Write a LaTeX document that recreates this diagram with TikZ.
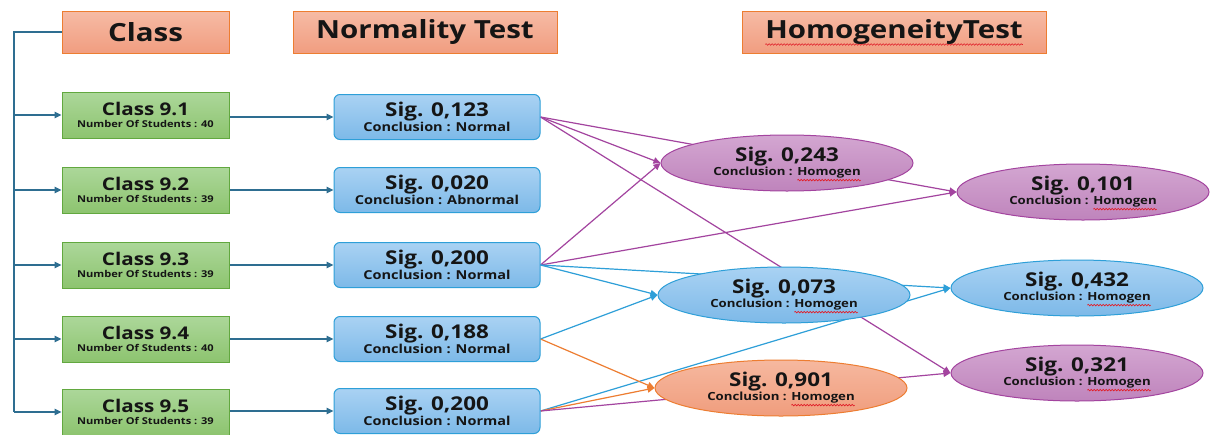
\documentclass[tikz,border=0pt]{standalone}
\usepackage{fontspec}
\setmainfont[FakeStretch=1.18]{Open Sans}
\usetikzlibrary{arrows.meta,backgrounds,shapes.geometric,decorations.pathmorphing}

\definecolor{hdrTop}{HTML}{F6BBA5}
\definecolor{hdrBot}{HTML}{F19D80}
\definecolor{hdrLine}{HTML}{ED7D31}
\definecolor{grTop}{HTML}{ACD79A}
\definecolor{grBot}{HTML}{8DC46F}
\definecolor{grLine}{HTML}{62A83F}
\definecolor{blTop}{HTML}{A9D2F3}
\definecolor{blBot}{HTML}{7DB9E8}
\definecolor{blLine}{HTML}{2E9FD8}
\definecolor{puTop}{HTML}{D3A6D1}
\definecolor{puBot}{HTML}{BF84BC}
\definecolor{puLine}{HTML}{A3449F}
\definecolor{orTop}{HTML}{F6B89F}
\definecolor{orBot}{HTML}{F09D7D}
\definecolor{orLine}{HTML}{ED7D31}
\definecolor{treeLine}{HTML}{2E6E91}
\definecolor{txt}{HTML}{151515}
\definecolor{squig}{HTML}{E0202A}

\newsavebox\sqbox
\newcommand\sq[2][-4.2pt]{\sbox\sqbox{#2}\rlap{\tikz[overlay,baseline=0pt]\draw[squig,line width=0.6pt,decorate,decoration={snake,amplitude=0.8pt,segment length=3pt}] (0pt,#1) -- (\wd\sqbox,#1);}\usebox\sqbox}
\newcommand\bigln[1]{{\fontsize{19}{21}\selectfont #1}}
\newcommand\smln[1]{{\fontsize{12.3}{13}\selectfont #1}}
\newcommand\ellln[1]{{\fontsize{11.2}{13}\selectfont #1}}
\newcommand\clsln[1]{{\fontsize{17.5}{19}\selectfont #1}}
\newcommand\numln[1]{{\fontsize{9.4}{10}\selectfont #1}}

\begin{document}
\begin{tikzpicture}[x=1pt,y=-1pt,
  hdr/.style={draw=hdrLine,line width=1pt,top color=hdrTop,bottom color=hdrBot,minimum height=42pt,inner sep=0pt,text=txt,font=\bfseries\fontsize{25}{27}\selectfont},
  classbox/.style={draw=grLine,line width=1pt,top color=grTop,bottom color=grBot,minimum width=167pt,minimum height=46pt,inner sep=0pt,align=center,text=txt,font=\bfseries},
  normbox/.style={draw=blLine,line width=1pt,rounded corners=6pt,top color=blTop,bottom color=blBot,minimum width=206pt,minimum height=45pt,inner sep=0pt,align=center,text=txt,font=\bfseries},
  ellbase/.style={ellipse,line width=1pt,minimum width=252pt,minimum height=56pt,inner sep=0pt,align=center,text=txt,font=\bfseries},
  ellP/.style={ellbase,draw=puLine,top color=puTop,bottom color=puBot},
  ellB/.style={ellbase,draw=blLine,top color=blTop,bottom color=blBot},
  ellO/.style={ellbase,draw=orLine,top color=orTop,bottom color=orBot},
  tip/.style={-{Triangle[length=7pt,width=6.5pt]}},
  tree/.style={draw=treeLine,line width=1.5pt},
  treearr/.style={tree,tip},
  conP/.style={draw=puLine,line width=1.2pt,tip},
  conB/.style={draw=blLine,line width=1.2pt,tip},
  conO/.style={draw=orLine,line width=1.2pt,tip}]
\useasboundingbox (0,0) rectangle (1210,434);
\begin{scope}[on background layer]
\fill[white] (0,0) rectangle (1210,434);
\end{scope}

% headers
\node[hdr,minimum width=167pt] (hClass) at (145.5,32) {Class};
\node[hdr,minimum width=264pt] (hNorm) at (425,32) {Normality Test};
\node[hdr,minimum width=304pt] (hHomo) at (894,32) {\sq[-6pt]{HomogeneityTest}};

% classes
\node[classbox] (g1) at (145.5,115) {\clsln{Class 9.1}\\\numln{Number Of Students : 40}};
\node[classbox] (g2) at (145.5,190) {\clsln{Class 9.2}\\\numln{Number Of Students : 39}};
\node[classbox] (g3) at (145.5,265) {\clsln{Class 9.3}\\\numln{Number Of Students : 39}};
\node[classbox] (g4) at (145.5,339) {\clsln{Class 9.4}\\\numln{Number Of Students : 40}};
\node[classbox] (g5) at (145.5,412) {\clsln{Class 9.5}\\\numln{Number Of Students : 39}};

% normality
\node[normbox] (b1) at (437,117) {\bigln{Sig. 0,123}\\\smln{Conclusion : Normal}};
\node[normbox] (b2) at (437,190) {\bigln{Sig. 0,020}\\\smln{Conclusion : Abnormal}};
\node[normbox] (b3) at (437,265) {\bigln{Sig. 0,200}\\\smln{Conclusion : Normal}};
\node[normbox] (b4) at (437,339) {\bigln{Sig. 0,188}\\\smln{Conclusion : Normal}};
\node[normbox] (b5) at (437,411) {\bigln{Sig. 0,200}\\\smln{Conclusion : Normal}};

% homogeneity
\node[ellP] (e243) at (787,163) {\bigln{Sig. 0,243}\\\ellln{Conclusion : \sq{Homogen}}};
\node[ellP] (e101) at (1083,192) {\bigln{Sig. 0,101}\\\ellln{Conclusion : \sq{Homogen}}};
\node[ellB] (e073) at (784,295) {\bigln{Sig. 0,073}\\\ellln{Conclusion : \sq{Homogen}}};
\node[ellB] (e432) at (1077,288) {\bigln{Sig. 0,432}\\\ellln{Conclusion : \sq{Homogen}}};
\node[ellO] (e901) at (781,388) {\bigln{Sig. 0,901}\\\ellln{Conclusion : \sq{Homogen}}};
\node[ellP] (e321) at (1077,373) {\bigln{Sig. 0,321}\\\ellln{Conclusion : \sq{Homogen}}};

\coordinate (tx) at (14,32);

\begin{scope}[on background layer]
\draw[tree] (hClass.west) -- (tx) -- (tx |- g5);
\foreach \n in {g1,g2,g3,g4,g5} \draw[treearr] (tx |- \n) -- (\n.west);
\foreach \n/\m in {g1/b1,g2/b2,g3/b3,g4/b4,g5/b5} \draw[treearr] (\n.east |- \m) -- (\m.west);
\draw[conP] (b1.east) -- (e243.west);
\draw[conP] (b1.east) -- (e101.west);
\draw[conP] (b1.east) -- (e321.west);
\draw[conP] (b3.east) -- (e243.west);
\draw[conP] (b3.east) -- (e101.west);
\draw[conB] (b3.east) -- (e073.west);
\draw[conB] (b3.east) -- (e432.west);
\draw[conB] (b4.east) -- (e073.west);
\draw[conB] (b5.east) -- (e432.west);
\draw[conO] (b4.east) -- (e901.west);
\draw[conO] (b5.east) -- (e901.west);
\draw[conP] (b5.east) -- (e321.west);
\end{scope}
\end{tikzpicture}
\end{document}
